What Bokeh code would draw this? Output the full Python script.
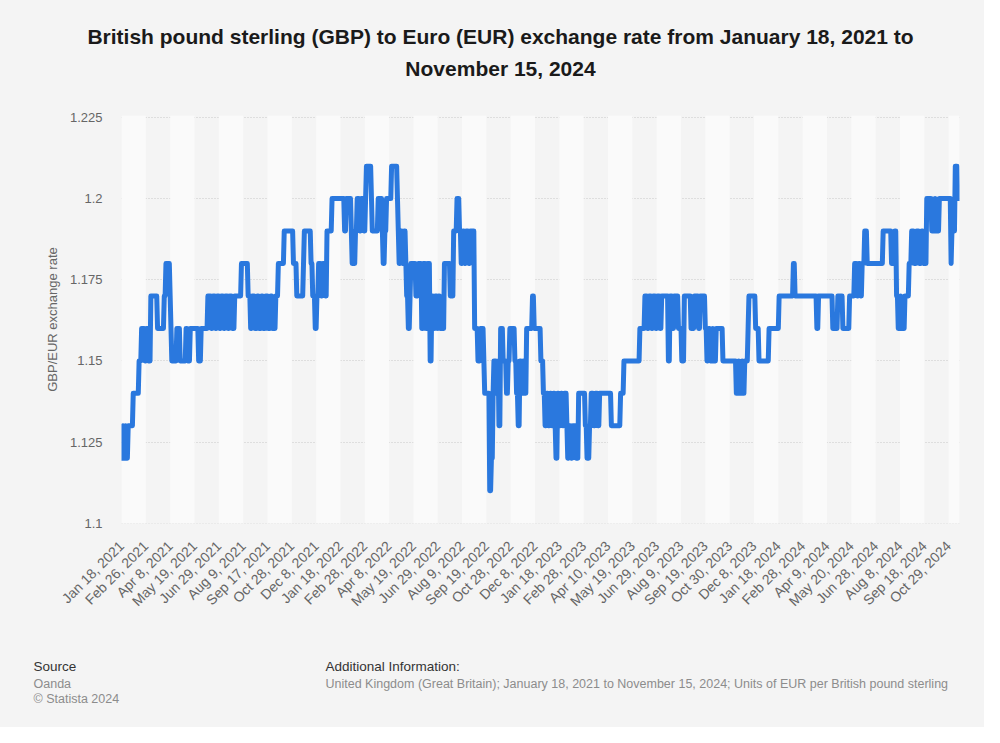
import numpy as np
import pandas as pd
from math import pi
from bokeh.plotting import figure
from bokeh.layouts import column
from bokeh.models import Range1d, FixedTicker, NumeralTickFormatter
from bokeh.core.properties import value
from bokeh.embed import file_html
from bokeh.resources import INLINE

# ---------------- data ----------------
start_date = "2021-01-18"

# GBP->EUR rate levels and the number of trading days spent at each level
rate_levels = [
    1.12, 1.13, 1.12, 1.13, 1.12, 1.13, 1.14, 1.15, 1.16, 1.15,
    1.16, 1.15, 1.17, 1.16, 1.17, 1.18, 1.17, 1.16, 1.15, 1.16,
    1.15, 1.16, 1.15, 1.16, 1.15, 1.16, 1.17, 1.16, 1.17, 1.16,
    1.17, 1.16, 1.17, 1.16, 1.17, 1.16, 1.17, 1.16, 1.17, 1.18,
    1.17, 1.16, 1.17, 1.16, 1.17, 1.16, 1.17, 1.16, 1.17, 1.16,
    1.17, 1.16, 1.17, 1.18, 1.19, 1.18, 1.17, 1.18, 1.19, 1.18,
    1.17, 1.16, 1.17, 1.18, 1.17, 1.18, 1.17, 1.19, 1.20, 1.19,
    1.20, 1.19, 1.18, 1.19, 1.20, 1.19, 1.20, 1.19, 1.20, 1.21,
    1.20, 1.19, 1.20, 1.19, 1.18, 1.19, 1.20, 1.21, 1.20, 1.19,
    1.18, 1.19, 1.18, 1.19, 1.18, 1.17, 1.16, 1.17, 1.18, 1.17,
    1.18, 1.16, 1.18, 1.16, 1.18, 1.15, 1.17, 1.16, 1.17, 1.16,
    1.17, 1.16, 1.18, 1.17, 1.19, 1.20, 1.19, 1.18, 1.19, 1.18,
    1.19, 1.18, 1.19, 1.16, 1.15, 1.16, 1.15, 1.14, 1.11, 1.12,
    1.14, 1.15, 1.14, 1.15, 1.13, 1.16, 1.15, 1.14, 1.15, 1.16,
    1.15, 1.14, 1.13, 1.15, 1.14, 1.15, 1.14, 1.16, 1.17, 1.16,
    1.15, 1.14, 1.13, 1.14, 1.13, 1.14, 1.13, 1.14, 1.13, 1.12,
    1.14, 1.13, 1.14, 1.13, 1.14, 1.13, 1.12, 1.13, 1.12, 1.13,
    1.12, 1.14, 1.13, 1.12, 1.13, 1.14, 1.13, 1.14, 1.13, 1.14,
    1.13, 1.14, 1.15, 1.16, 1.17, 1.16, 1.17, 1.16, 1.17, 1.16,
    1.17, 1.16, 1.17, 1.15, 1.17, 1.16, 1.17, 1.16, 1.15, 1.17,
    1.16, 1.17, 1.16, 1.17, 1.16, 1.15, 1.16, 1.15, 1.16, 1.15,
    1.16, 1.15, 1.14, 1.15, 1.14, 1.15, 1.14, 1.15, 1.16, 1.17,
    1.16, 1.15, 1.16, 1.17, 1.18, 1.17, 1.16, 1.17, 1.16, 1.17,
    1.16, 1.17, 1.18, 1.17, 1.18, 1.17, 1.18, 1.19, 1.18, 1.19,
    1.18, 1.19, 1.17, 1.16, 1.17, 1.16, 1.17, 1.18, 1.19, 1.18,
    1.19, 1.18, 1.19, 1.18, 1.20, 1.19, 1.20, 1.19, 1.20, 1.18,
    1.19, 1.21, 1.20,
]
trading_days = [
    2, 1, 2, 1, 2, 6, 7, 3, 4, 2,
    2, 3, 8, 8, 2, 5, 1, 1, 6, 4,
    7, 2, 3, 10, 3, 8, 4, 2, 3, 2,
    3, 2, 3, 2, 3, 2, 3, 3, 8, 8,
    3, 2, 3, 3, 2, 3, 2, 3, 3, 3,
    2, 4, 3, 7, 11, 4, 8, 1, 8, 2,
    3, 2, 2, 3, 2, 3, 2, 6, 15, 2,
    6, 1, 4, 2, 3, 2, 3, 2, 1, 6,
    1, 7, 5, 1, 2, 2, 6, 7, 1, 1,
    2, 2, 2, 2, 1, 2, 2, 1, 6, 3,
    4, 2, 3, 2, 3, 2, 2, 2, 3, 1,
    2, 5, 7, 4, 4, 3, 2, 2, 2, 2,
    3, 2, 5, 4, 3, 4, 1, 6, 2, 2,
    1, 3, 2, 1, 2, 3, 4, 2, 2, 6,
    2, 2, 2, 2, 2, 2, 2, 7, 2, 8,
    3, 2, 2, 2, 2, 2, 2, 2, 1, 2,
    2, 2, 2, 2, 3, 1, 2, 2, 2, 4,
    3, 8, 2, 3, 2, 3, 2, 3, 2, 14,
    11, 4, 19, 6, 3, 2, 3, 2, 3, 2,
    3, 2, 8, 2, 3, 2, 5, 4, 3, 8,
    4, 5, 2, 6, 2, 2, 2, 3, 1, 3,
    8, 16, 3, 1, 3, 1, 2, 4, 1, 8,
    4, 12, 12, 17, 2, 26, 2, 17, 6, 6,
    8, 6, 3, 2, 2, 2, 3, 3, 19, 10,
    4, 2, 2, 3, 1, 4, 5, 3, 3, 3,
    3, 3, 2, 4, 6, 4, 1, 4, 14, 1,
    4, 3, 3,
]

tick_labels = [
    "Jan 18, 2021", "Feb 26, 2021", "Apr 8, 2021", "May 19, 2021", "Jun 29, 2021",
    "Aug 9, 2021", "Sep 17, 2021", "Oct 28, 2021", "Dec 8, 2021", "Jan 18, 2022",
    "Feb 28, 2022", "Apr 8, 2022", "May 19, 2022", "Jun 29, 2022", "Aug 9, 2022",
    "Sep 19, 2022", "Oct 28, 2022", "Dec 8, 2022", "Jan 18, 2023", "Feb 28, 2023",
    "Apr 10, 2023", "May 19, 2023", "Jun 29, 2023", "Aug 9, 2023", "Sep 19, 2023",
    "Oct 30, 2023", "Dec 8, 2023", "Jan 18, 2024", "Feb 28, 2024", "Apr 9, 2024",
    "May 20, 2024", "Jun 28, 2024", "Aug 8, 2024", "Sep 18, 2024", "Oct 29, 2024",
]
y_ticks = [1.1, 1.125, 1.15, 1.175, 1.2, 1.225]

title_lines = [
    "British pound sterling (GBP) to Euro (EUR) exchange rate from January 18, 2021 to",
    "November 15, 2024",
]
y_title = "GBP/EUR exchange rate"
source_lines = ["Source", "Oanda", "\u00a9 Statista 2024"]
info_lines = [
    "Additional Information:",
    "United Kingdom (Great Britain); January 18, 2021 to November 15, 2024; "
    "Units of EUR per British pound sterling",
]

# ---------------- build series ----------------
rates = np.repeat(rate_levels, trading_days)
n = len(rates)
dates = pd.bdate_range(start_date, periods=n)
idx = np.arange(n)
tick_dates = pd.to_datetime(tick_labels, format="%b %d, %Y")
tick_pos = [int(np.searchsorted(dates.values, d.to_datetime64())) for d in tick_dates]

FONT = "Liberation Sans"
BG = "#f4f4f4"
W = 984


def text_panel(height, top):
    """A borderless figure whose data units are page pixels (y grows downward)."""
    f = figure(width=W, height=height, output_backend="svg", toolbar_location=None,
               x_range=Range1d(0, W), y_range=Range1d(top + height, top),
               x_axis_location=None, y_axis_location=None,
               min_border=0, min_border_left=0, min_border_right=0,
               min_border_top=0, min_border_bottom=0,
               frame_align=False,
               background_fill_color=BG, border_fill_color=BG,
               outline_line_color=None)
    f.grid.visible = False
    return f


# ---------------- title ----------------
head = text_panel(100, 0)
head.text(x=[500, 500], y=[36, 67.5], text=title_lines,
          text_font=value(FONT), text_font_size=value("21px"), text_font_style="bold",
          text_color="#1a1a1a", text_align="center", text_baseline="alphabetic")

# ---------------- main chart ----------------
y0, y1 = 1.0999, 1.2256
p = figure(
    width=W, height=540,
    output_backend="svg", toolbar_location=None,
    x_range=Range1d(0, n - 1), y_range=Range1d(y0, y1),
    min_border_left=121, min_border_right=25,
    min_border_top=15, min_border_bottom=117,
    frame_align=False,
    background_fill_color=BG, border_fill_color=BG,
    outline_line_color=None,
)

# alternating light bands between date ticks
edges = tick_pos + [n - 1]
band_left = edges[0:-1:2]
band_right = edges[1::2]
p.quad(left=band_left, right=band_right, bottom=y0, top=y1,
       fill_color="#fafafa", line_color=None)

p.line(idx, rates, line_width=5, line_color="#2a78de",
       line_join="round", line_cap="round")

p.xgrid.visible = False
p.ygrid.ticker = FixedTicker(ticks=y_ticks)
p.ygrid.grid_line_color = "#c9c9c9"
p.ygrid.grid_line_dash = "1 2"
p.ygrid.grid_line_width = 1

for ax in (p.xaxis[0], p.yaxis[0]):
    ax.axis_line_color = None
    ax.major_tick_line_color = None
    ax.minor_tick_line_color = None
    ax.major_tick_out = 0
    ax.major_tick_in = 0
    ax.minor_tick_out = 0
    ax.minor_tick_in = 0
    ax.major_label_text_font = FONT
    ax.major_label_text_color = "#666666"

p.yaxis.major_label_text_font_size = "13px"
p.yaxis.ticker = FixedTicker(ticks=y_ticks)
p.yaxis.formatter = NumeralTickFormatter(format="0.[000]")
p.yaxis.major_label_standoff = 19
p.yaxis.axis_label = y_title
p.yaxis.axis_label_text_font = FONT
p.yaxis.axis_label_text_font_size = "13px"
p.yaxis.axis_label_text_font_style = "normal"
p.yaxis.axis_label_text_color = "#666666"
p.yaxis.axis_label_standoff = 7

p.xaxis.major_label_text_font_size = "14px"
p.xaxis.ticker = FixedTicker(ticks=tick_pos)
p.xaxis.major_label_overrides = {pos: lab for pos, lab in zip(tick_pos, tick_labels)}
p.xaxis.major_label_orientation = pi / 4
p.xaxis.major_label_standoff = 20

# ---------------- footer ----------------
foot = text_panel(87, 640)
foot.text(x=[33], y=[666], text=source_lines[:1],
          text_font=value(FONT), text_font_size=value("13.5px"),
          text_color="#333333", text_baseline="alphabetic")
foot.text(x=[33, 33], y=[683, 698], text=source_lines[1:],
          text_font=value(FONT), text_font_size=value("12.5px"),
          text_color="#8c8c8c", text_baseline="alphabetic")
foot.text(x=[325], y=[666], text=info_lines[:1],
          text_font=value(FONT), text_font_size=value("13.5px"),
          text_color="#333333", text_baseline="alphabetic")
foot.text(x=[325], y=[683], text=info_lines[1:],
          text_font=value(FONT), text_font_size=value("12.5px"),
          text_color="#8c8c8c", text_baseline="alphabetic")

page = column(head, p, foot, spacing=0, styles={"background-color": BG})
open("out.html", "w").write(file_html(page, INLINE))
